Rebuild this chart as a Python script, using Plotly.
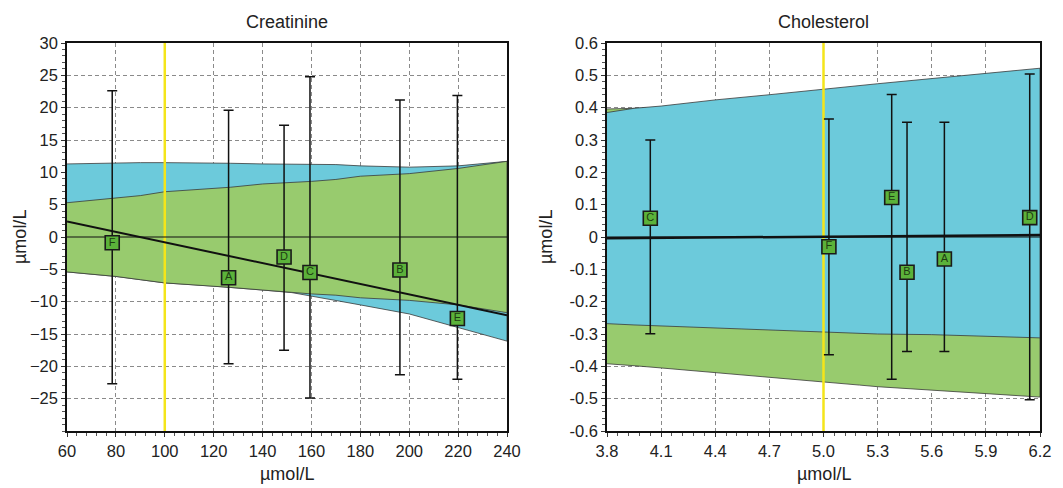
import plotly.graph_objects as go

# ---------------- Creatinine (left) ----------------
cr_band_x = [60, 80, 90, 100, 120, 127, 140, 152, 160, 170, 180, 200, 220, 240]
cr_blue_upper = [11.3, 11.5, 11.5, 11.5, 11.5, 11.4, 11.3, 11.3, 11.2, 11.2, 11.0, 10.8, 11.0, 11.7]
cr_blue_lower = [-5.4, -6.1, -6.6, -7.1, -7.6, -7.8, -8.2, -8.6, -9.2, -9.8, -10.5, -11.9, -14.0, -16.1]
cr_green_upper = [5.3, 6.0, 6.4, 7.0, 7.5, 7.7, 8.2, 8.4, 8.6, 8.9, 9.4, 9.8, 10.6, 11.7]
cr_green_lower = [-5.4, -6.1, -6.6, -7.1, -7.6, -7.8, -8.2, -8.6, -8.8, -9.0, -9.4, -9.8, -10.5, -11.7]

cr_labels = ["F", "A", "D", "C", "B", "E"]
cr_x = [78.5, 126.1, 148.8, 159.4, 196.2, 219.7]
cr_y = [-0.9, -6.3, -3.1, -5.5, -5.1, -12.6]
cr_hi = [22.6, 19.6, 17.3, 24.8, 21.2, 21.9]
cr_lo = [-22.7, -19.6, -17.5, -24.9, -21.3, -22.0]

cr_reg_x = [60, 240]
cr_reg_y = [2.4, -12.1]
cr_ref = 100
cr_xrange = [60, 240]
cr_yrange = [-30, 30]
cr_yticks = [-25, -20, -15, -10, -5, 0, 5, 10, 15, 20, 25, 30]
cr_xticks = [60, 80, 100, 120, 140, 160, 180, 200, 220, 240]

# ---------------- Cholesterol (right) ----------------
ch_band_x = [3.8, 3.95, 4.1, 4.4, 4.7, 5.0, 5.2, 5.3, 5.6, 5.9, 6.2]
ch_blue_upper = [0.385, 0.398, 0.405, 0.424, 0.440, 0.458, 0.468, 0.474, 0.490, 0.505, 0.522]
ch_blue_lower = [-0.268, -0.272, -0.276, -0.283, -0.289, -0.294, -0.298, -0.300, -0.302, -0.307, -0.312]
ch_green_upper = [0.396, 0.397, 0.400, 0.410, 0.420, 0.430, 0.440, 0.445, 0.455, 0.465, 0.475]
ch_green_lower = [-0.392, -0.398, -0.405, -0.420, -0.435, -0.448, -0.458, -0.463, -0.475, -0.485, -0.495]

ch_labels = ["C", "F", "E", "B", "A", "D"]
ch_x = [4.04, 5.03, 5.378, 5.463, 5.67, 6.143]
ch_y = [0.058, -0.030, 0.122, -0.109, -0.068, 0.060]
ch_hi = [0.300, 0.365, 0.441, 0.355, 0.355, 0.504]
ch_lo = [-0.299, -0.364, -0.440, -0.354, -0.354, -0.503]

ch_reg_x = [3.8, 6.2]
ch_reg_y = [-0.004, 0.006]
ch_ref = 5.0
ch_xrange = [3.8, 6.2]
ch_yrange = [-0.6, 0.6]
ch_yticks = [-0.6, -0.5, -0.4, -0.3, -0.2, -0.1, 0, 0.1, 0.2, 0.3, 0.4, 0.5, 0.6]
ch_xticks = [3.8, 4.1, 4.4, 4.7, 5.0, 5.3, 5.6, 5.9, 6.2]

BLUE = "#6ccadb"
GREEN = "#98cb6e"
MARK = "#5bb23a"
YELLOW = "#f4e51a"
EDGE = "#3a3a3a"

fig = go.Figure()


def band(xs, lo, hi, color, xa, ya):
    fig.add_trace(go.Scatter(
        x=list(xs) + list(xs)[::-1], y=list(hi) + list(lo)[::-1],
        fill="toself", fillcolor=color, mode="lines",
        line=dict(color=EDGE, width=0.8), xaxis=xa, yaxis=ya,
        hoverinfo="skip", showlegend=False))


def panel(xa, ya, bx, blo, bhi, glo, ghi, green_first, ref, yr, xr,
          rx, ry, rw, px, py, phi, plo, labels):
    if green_first:
        band(bx, glo, ghi, GREEN, xa, ya)
        band(bx, blo, bhi, BLUE, xa, ya)
    else:
        band(bx, blo, bhi, BLUE, xa, ya)
        band(bx, glo, ghi, GREEN, xa, ya)
    # reference (yellow) line
    fig.add_trace(go.Scatter(x=[ref, ref], y=yr, mode="lines",
                             line=dict(color=YELLOW, width=2.5),
                             xaxis=xa, yaxis=ya, showlegend=False, hoverinfo="skip"))
    # zero line
    fig.add_trace(go.Scatter(x=xr, y=[0, 0], mode="lines",
                             line=dict(color="#111", width=1.2),
                             xaxis=xa, yaxis=ya, showlegend=False, hoverinfo="skip"))
    # regression line
    fig.add_trace(go.Scatter(x=rx, y=ry, mode="lines",
                             line=dict(color="#111", width=rw),
                             xaxis=xa, yaxis=ya, showlegend=False, hoverinfo="skip"))
    # points with limits
    fig.add_trace(go.Scatter(
        x=px, y=py, mode="markers+text", text=labels,
        textposition="middle center",
        textfont=dict(size=11, color="#1e3d12", family="Liberation Sans"),
        marker=dict(symbol="square", size=14, color=MARK,
                    line=dict(color="#1a1a1a", width=1.6)),
        error_y=dict(type="data", symmetric=False,
                     array=[h - v for h, v in zip(phi, py)],
                     arrayminus=[v - l for v, l in zip(py, plo)],
                     color="#111", thickness=1.5, width=5),
        xaxis=xa, yaxis=ya, showlegend=False))


panel("x", "y", cr_band_x, cr_blue_lower, cr_blue_upper, cr_green_lower, cr_green_upper,
      False, cr_ref, cr_yrange, cr_xrange, cr_reg_x, cr_reg_y, 2,
      cr_x, cr_y, cr_hi, cr_lo, cr_labels)
panel("x2", "y2", ch_band_x, ch_blue_lower, ch_blue_upper, ch_green_lower, ch_green_upper,
      True, ch_ref, ch_yrange, ch_xrange, ch_reg_x, ch_reg_y, 2.5,
      ch_x, ch_y, ch_hi, ch_lo, ch_labels)

FAM = "Liberation Sans, Arial, sans-serif"
TICKFONT = dict(family=FAM, size=16.5, color="#222")
TITLEFONT = dict(family=FAM, size=18, color="#222")

axis_common = dict(
    showline=True, linecolor="#111", linewidth=1.5, mirror=True,
    ticks="outside", ticklen=4, tickcolor="#333",
    showgrid=True, gridcolor="#8a8a8a", griddash="4px,3px", gridwidth=1.2,
    zeroline=False, tickfont=TICKFONT, automargin=False,
)

H, W = 488, 1063
yd = [(H - 431) / H, (H - 43) / H]

fig.update_layout(
    width=W, height=H,
    margin=dict(l=0, r=0, t=0, b=0),
    paper_bgcolor="white", plot_bgcolor="white",
    font=TICKFONT, showlegend=False,
    xaxis=dict(axis_common, domain=[67 / W, 507 / W], range=cr_xrange,
               tickmode="array", tickvals=cr_xticks,
               minor=dict(ticks="outside", ticklen=3, dtick=4, tick0=60, tickcolor="#555", showgrid=False),
               anchor="y"),
    yaxis=dict(axis_common, domain=yd, range=cr_yrange,
               tickmode="array", tickvals=cr_yticks,
               minor=dict(ticks="outside", ticklen=3, dtick=1, tick0=0, tickcolor="#555", showgrid=False),
               anchor="x"),
    xaxis2=dict(axis_common, domain=[607 / W, 1040 / W], range=ch_xrange,
                tickmode="array", tickvals=ch_xticks, tickformat=".1f",
                minor=dict(ticks="outside", ticklen=3, dtick=0.06, tick0=3.8, tickcolor="#555", showgrid=False),
                anchor="y2"),
    yaxis2=dict(axis_common, domain=yd, range=ch_yrange,
                tickmode="array", tickvals=ch_yticks,
                ticktext=[("0" if v == 0 else f"{v:g}") for v in ch_yticks],
                minor=dict(ticks="outside", ticklen=3, dtick=0.02, tick0=0, tickcolor="#555", showgrid=False),
                anchor="x2"),
)

# titles and axis labels
ann = [
    dict(text="Creatinine", x=(67 + 507) / 2 / W, y=(H - 22) / H),
    dict(text="Cholesterol", x=(607 + 1040) / 2 / W, y=(H - 22) / H),
    dict(text="µmol/L", x=(67 + 507) / 2 / W, y=(H - 474) / H),
    dict(text="µmol/L", x=(607 + 1040) / 2 / W, y=(H - 474) / H),
    dict(text="µmol/L", x=20 / W, y=(H - 237) / H, textangle=-90),
    dict(text="µmol/L", x=546 / W, y=(H - 237) / H, textangle=-90),
]
for a in ann:
    fig.add_annotation(xref="paper", yref="paper", showarrow=False,
                       xanchor="center", yanchor="middle",
                       font=TITLEFONT, **a)

fig.write_html(
    "out.html",
    config={"displayModeBar": False},
    post_script="document.body.style.margin='0';document.body.style.overflow='hidden';",
)
